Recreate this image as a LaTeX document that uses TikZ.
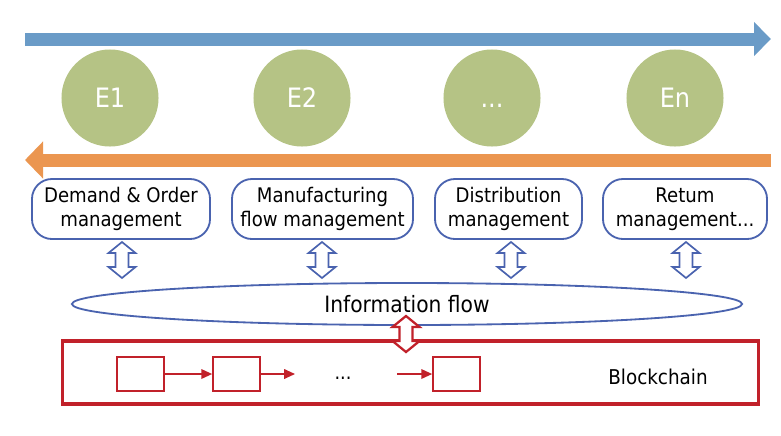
\documentclass[tikz,border=0pt]{standalone}
\usepackage{fontspec}
\setmainfont{DejaVu Sans}[FakeStretch=0.9]
\usetikzlibrary{positioning, arrows.meta, shapes.geometric}

\definecolor{flowblue}{HTML}{6A9BC7}
\definecolor{floworange}{HTML}{EB9650}
\definecolor{entgreen}{HTML}{B5C385}
\definecolor{boxblue}{HTML}{4A63AF}
\definecolor{chainred}{HTML}{C1212A}

\tikzset{
  entity/.style={circle, fill=entgreen, minimum size=2.425cm, inner sep=0pt,
    text=white, font=\fontsize{19}{22}\selectfont, text height=13.9pt, text depth=0pt},
  process/.style={draw=boxblue, line width=1.3pt, rounded corners=0.5cm,
    minimum height=1.5cm, align=center, inner sep=0pt, font=\fontsize{14.3}{17}\selectfont},
  block/.style={draw=chainred, line width=1.2pt, minimum width=1.175cm,
    minimum height=0.85cm, inner sep=0pt},
  chainarrow/.style={chainred, line width=1pt, -{Triangle[length=0.27cm, width=0.24cm]}},
  % hollow two-way arrow, half length 18, head 13.5 wide, shaft 6.5
  pics/twoway/.style={code={
    \draw[fill=white] (0,-18) -- (13.5,-7) -- (6.5,-7) -- (6.5,7) -- (13.5,7) -- (0,18)
      -- (-13.5,7) -- (-6.5,7) -- (-6.5,-7) -- (-13.5,-7) -- cycle;
  }}
}

\begin{document}
\begin{tikzpicture}[x=0.025cm, y=-0.025cm]
\useasboundingbox (0,0) rectangle (781,435);

% flows between the entities
\coordinate (fwdstart) at (25,39);
\coordinate (fwdend) at (771,39);
\coordinate (backstart) at (771,160);
\coordinate (backend) at (25,160);
\draw[flowblue, line width=0.325cm, -{Triangle[length=0.425cm, width=0.825cm]}] (fwdstart) -- (fwdend);
\draw[floworange, line width=0.325cm, -{Triangle[length=0.45cm, width=0.9cm]}] (backstart) -- (backend);

% entities
\node[entity] (e1) at (110,98) {E1};
\node[entity] (e2) at (302,98) {E2};
\node[entity] (e3) at (492,98) {...};
\node[entity] (en) at (675,98) {En};

% processes
\node[process, minimum width=4.45cm] (demand) at (121,209) {Demand \& Order\\management};
\node[process, minimum width=4.525cm] (manuf) at (322.5,209) {Manufacturing\\flow management};
\node[process, minimum width=3.675cm] (distrib) at (508.5,209) {Distribution\\management};
\node[process, minimum width=4.1cm] (return) at (685,209) {Retum\\management...};

% information flow
\node[ellipse, draw=boxblue, line width=1.3pt, minimum width=16.75cm, minimum height=1.05cm,
  inner sep=0pt, font=\fontsize{16}{19}\selectfont] (info) at (407,304) {Information flow};

\pic[boxblue, line width=1.2pt] (l1) at (122,260) {twoway};
\pic[boxblue, line width=1.2pt] (l2) at (322,260) {twoway};
\pic[boxblue, line width=1.2pt] (l3) at (511,260) {twoway};
\pic[boxblue, line width=1.2pt] (l4) at (686,260) {twoway};

% blockchain
\node[draw=chainred, line width=2.2pt, minimum width=17.375cm, minimum height=1.575cm,
  inner sep=0pt] (chain) at (410.5,372.5) {};
\node[font=\fontsize{14.5}{17}\selectfont] (chainlabel) at (658,377) {Blockchain};

\node[block] (b1) at (140.5,374) {};
\node[block] (b2) at (236.5,374) {};
\node[block] (b3) at (456.5,374) {};
\node[anchor=base, font=\fontsize{14}{17}\selectfont] (dots) at (343,379) {...};
\coordinate (gapin) at (295,374);
\coordinate (gapout) at (397,374);

\draw[chainarrow] (b1.east) -- (b2.west);
\draw[chainarrow] (b2.east) -- (gapin);
\draw[chainarrow] (gapout) -- (b3.west);

\pic[chainred, line width=1.6pt] (lchain) at (406,334) {twoway};

\end{tikzpicture}
\end{document}
